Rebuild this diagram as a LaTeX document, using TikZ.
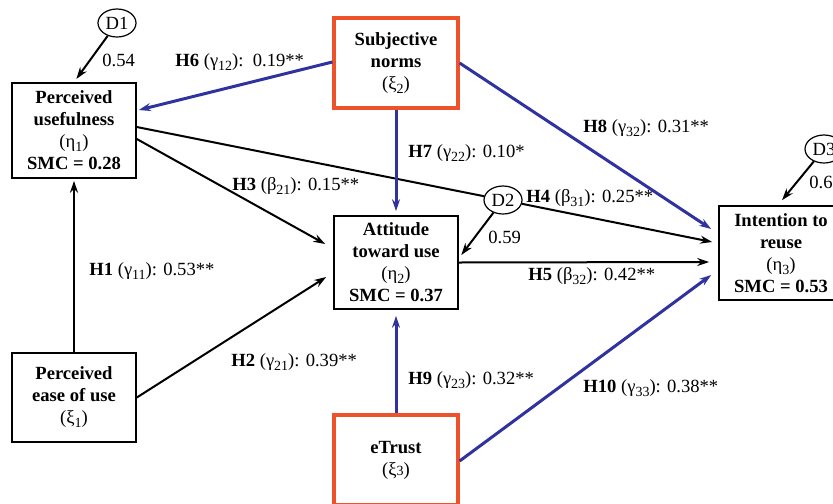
\documentclass[tikz,border=0pt]{standalone}
\usepackage{fontspec}
\setmainfont{Liberation Serif}
\usetikzlibrary{positioning,arrows.meta,shapes.geometric}

\definecolor{extorange}{RGB}{238,82,42}
\definecolor{hypblue}{RGB}{48,50,160}

\newcommand{\lowsub}[1]{\raisebox{-0.45ex}{\fontsize{7}{7}\selectfont #1}}

\tikzset{
  construct/.style={draw, line width=0.8pt, align=center, minimum width=62pt, inner sep=0pt},
  external/.style={construct, draw=extorange, line width=1.6pt},
  dist/.style={ellipse, draw, line width=0.6pt, inner sep=0pt, minimum width=19pt, minimum height=14pt},
  arr/.style={-{Stealth[length=6pt,width=4pt,inset=2pt]}, line width=1pt},
  barr/.style={arr, color=hypblue, line width=1.5pt},
  hlabel/.style={anchor=west, inner sep=0pt}
}

\begin{document}
\begin{tikzpicture}[x=0.5pt, y=-0.5pt, font=\fontsize{9.3}{11}\selectfont]

  \useasboundingbox (0,0) rectangle (833,503);

  \node[construct, minimum height=47.5pt] (pu) at (74,130.5) {\textbf{Perceived}\\\textbf{usefulness}\\(η\lowsub{1})\\\textbf{SMC = 0.28}};
  \node[construct, minimum height=44.5pt] (peou) at (74,397.5) {\textbf{Perceived}\\\textbf{ease of use}\\(ξ\lowsub{1})};
  \node[external, minimum height=45pt] (sn) at (396,63) {\textbf{Subjective}\\\textbf{norms}\\(ξ\lowsub{2})};
  \node[construct, minimum height=46.5pt] (att) at (396,262.5) {\textbf{Attitude}\\\textbf{toward use}\\(η\lowsub{2})\\\textbf{SMC = 0.37}};
  \node[construct, minimum height=47pt] (int) at (781,253) {\textbf{Intention to}\\\textbf{reuse}\\(η\lowsub{3})\\\textbf{SMC = 0.53}};
  \node[external, minimum height=45pt] (et) at (396,460) {\textbf{eTrust}\\(ξ{\fontsize{7}{7}\selectfont 3})};

  \node[dist] (d1) at (117,23) {D1};
  \node[dist] (d2) at (503,200) {D2};
  \node[dist] (d3) at (824,149) {D3};

  \node[hlabel] (l54) at (102,60) {0.54};
  \node[hlabel] (l59) at (488,237) {0.59};
  \node[hlabel] (l6) at (809,182) {0.6};
  \node[hlabel] (h1) at (89,271) {\textbf{H1} (γ\lowsub{11}): 0.53**};
  \node[hlabel] (h2) at (231,362) {\textbf{H2} (γ\lowsub{21}): 0.39**};
  \node[hlabel] (h3) at (232,186) {\textbf{H3} (β\lowsub{21}): 0.15**};
  \node[hlabel] (h4) at (526,198) {\textbf{H4} (β\lowsub{31}): 0.25**};
  \node[hlabel] (h5) at (528,276) {\textbf{H5} (β\lowsub{32}): 0.42**};
  \node[hlabel] (h6) at (175,62) {\textbf{H6} (γ\lowsub{12}):\ \ 0.19**};
  \node[hlabel] (h7) at (408,153) {\textbf{H7} (γ\lowsub{22}): 0.10*};
  \node[hlabel] (h8) at (583,128) {\textbf{H8} (γ\lowsub{32}): 0.31**};
  \node[hlabel] (h9) at (408,380) {\textbf{H9} (γ\lowsub{23}): 0.32**};
  \node[hlabel] (h10) at (583,388) {\textbf{H10} (γ\lowsub{33}): 0.38**};

  \path[arr] (d1) edge[shorten >=2pt] (pu.north);
  \path[arr] (peou) edge[shorten >=1pt] (pu);
  \path[arr] (peou.east) edge ([shift={(-7,14.5)}]att.west);
  \path[arr] ([shift={(0,8.5)}]pu.east) edge ([shift={(-8,-18.5)}]att.west);
  \draw[line width=1pt] ([shift={(0,-3.5)}]pu.east) -- (d2);
  \path[arr] (d2) edge ([shift={(-6,-11)}]int.west);
  \path[arr] (att.east) edge ([shift={(-9,9)}]int.west);
  \path[arr] (d2) edge ([shift={(2.5,-7.5)}]att.east);
  \path[arr] (d3) edge ([shift={(1,-5)}]int.north);

  \path[barr] ([shift={(0,-1)}]sn.west) edge ([shift={(2,-20.5)}]pu.east);
  \path[barr] (sn) edge[shorten >=2pt] (att);
  \path[barr] (sn.east) edge ([shift={(-7,-24)}]int.west);
  \path[barr] (et) edge[shorten >=3pt] (att);
  \path[barr] ([shift={(0,1)}]et.east) edge ([shift={(-7,22)}]int.west);

\end{tikzpicture}
\end{document}
